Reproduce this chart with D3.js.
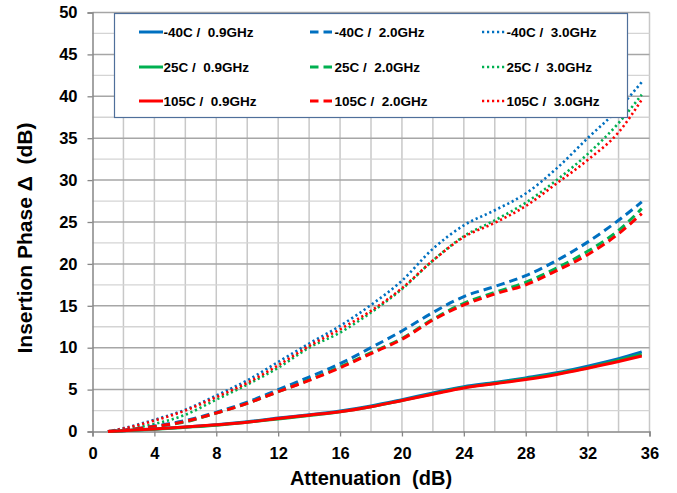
<!DOCTYPE html>
<html><head><meta charset="utf-8">
<script src="https://cdn.jsdelivr.net/npm/d3@7"></script>
<style>body{margin:0;background:#fff}svg{display:block;font-family:"Liberation Sans",Arial,sans-serif}</style>
</head><body><svg id="c" width="677" height="493"></svg>
<script>
const atten = [1,2,4,6,8,10,12,14,16,18,20,22,24,26,28,30,32,34,35.5];
const m40_09 = [0,0.1,0.3,0.55,0.8,1.15,1.6,2.0,2.45,3.05,3.8,4.6,5.35,5.85,6.4,7.0,7.8,8.7,9.5];
const p25_09 = [0,0.08,0.27,0.5,0.75,1.1,1.5,1.9,2.35,2.95,3.7,4.5,5.25,5.75,6.3,6.9,7.6,8.5,9.2];
const p105_09 = [0,0.1,0.3,0.55,0.8,1.1,1.55,1.95,2.35,2.95,3.7,4.45,5.2,5.7,6.2,6.8,7.55,8.35,9.0];
const m40_20 = [0,0.15,0.65,1.3,2.3,3.5,5.0,6.5,8.1,10.0,12.0,14.2,16.1,17.3,18.6,20.4,22.6,25.2,27.4];
const p25_20 = [0,0.12,0.55,1.15,2.2,3.35,4.75,6.15,7.7,9.4,11.1,13.4,15.3,16.6,17.8,19.5,21.5,24.0,26.6];
const p105_20 = [0,0.15,0.6,1.2,2.2,3.35,4.75,6.1,7.6,9.3,11.0,13.3,15.1,16.4,17.5,19.2,21.1,23.6,26.0];
const m40_30 = [0,0.4,1.4,2.6,4.3,6.1,8.3,10.5,12.6,15.1,18.0,21.8,24.6,26.4,28.4,31.4,35.0,38.5,41.7];
const p25_30 = [0,0.2,0.9,2.0,3.8,5.6,7.6,10.0,11.8,14.2,17.0,20.4,23.3,25.2,27.3,30.0,33.1,36.8,40.2];
const p105_30 = [0,0.35,1.3,2.5,4.1,5.8,7.9,10.2,12.2,14.4,17.1,20.4,23.2,24.9,26.9,29.6,32.4,35.7,39.6];
const xTicks = [0,4,8,12,16,20,24,28,32,36];
const yTicks = [0,5,10,15,20,25,30,35,40,45,50];
const temps = ["-40C", "25C", "105C"];
const freqs = ["0.9GHz", "2.0GHz", "3.0GHz"];

const colors = {"-40C":"#0070c0","25C":"#00b050","105C":"#ff0000"};
const dashes = {"0.9GHz":null,"2.0GHz":"8.5,5","3.0GHz":"2.2,2.8"};
const widths = {"0.9GHz":3,"2.0GHz":3,"3.0GHz":2.6};
const seriesVals = {
  "-40C|0.9GHz":m40_09,"25C|0.9GHz":p25_09,"105C|0.9GHz":p105_09,
  "-40C|2.0GHz":m40_20,"25C|2.0GHz":p25_20,"105C|2.0GHz":p105_20,
  "-40C|3.0GHz":m40_30,"25C|3.0GHz":p25_30,"105C|3.0GHz":p105_30
};

const svg = d3.select("#c");
const x = d3.scaleLinear().domain([0,36]).range([92.5,649.5]);
const y = d3.scaleLinear().domain([0,50]).range([431.5,12.5]);

// gridlines
const g = svg.append("g");
g.selectAll(".vg").data(d3.range(2,37,2)).join("line")
  .attr("x1",d=>x(d)).attr("x2",d=>x(d)).attr("y1",y(0)).attr("y2",y(50))
  .attr("stroke","#c8c8c8").attr("stroke-width",1.5);
g.selectAll(".hm").data(d3.range(2.5,50,5)).join("line")
  .attr("x1",x(0)).attr("x2",x(36)).attr("y1",d=>y(d)).attr("y2",d=>y(d))
  .attr("stroke","#d4d4d4").attr("stroke-width",1.3);
g.selectAll(".hM").data(d3.range(5,51,5)).join("line")
  .attr("x1",x(0)).attr("x2",x(36)).attr("y1",d=>y(d)).attr("y2",d=>y(d))
  .attr("stroke","#a6a6a6").attr("stroke-width",1.5);

// axes
const xa = svg.append("g").attr("transform",`translate(0,${y(0)})`)
  .call(d3.axisBottom(x).tickValues(xTicks).tickSize(5).tickPadding(8).tickFormat(d3.format("d")));
const ya = svg.append("g").attr("transform",`translate(${x(0)},0)`)
  .call(d3.axisLeft(y).tickValues(yTicks).tickSize(5).tickPadding(9).tickFormat(d3.format("d")));
[xa,ya].forEach(a=>{
  a.select(".domain").attr("stroke","#868686").attr("stroke-width",1.5);
  a.selectAll(".tick line").attr("stroke","#868686").attr("stroke-width",1.3);
  a.selectAll("text").attr("font-size",16.5).attr("font-weight","bold").attr("fill","#000")
    .attr("font-family","'Liberation Sans',Arial,sans-serif");
});
xa.selectAll("text").attr("dy","0.9em");
ya.selectAll("text").attr("dx","-1");

// lines
const line = d3.line().x((d,i)=>x(atten[i])).y(d=>y(d)).curve(d3.curveMonotoneX);
freqs.slice().reverse().forEach(f=>{
  temps.forEach(t=>{
    svg.append("path").datum(seriesVals[t+"|"+f]).attr("d",line)
      .attr("fill","none").attr("stroke",colors[t]).attr("stroke-width",widths[f])
      .attr("stroke-dasharray",dashes[f]);
  });
});

// legend
const lg = svg.append("g");
lg.append("rect").attr("x",114.5).attr("y",13.5).attr("width",513).attr("height",104)
  .attr("fill","#fff").attr("stroke","#4f6f9a").attr("stroke-width",1.2);
const colX = [139,310,482];
const rowY = [32,67,101];
freqs.forEach((f,ci)=>{
  temps.forEach((t,ri)=>{
    lg.append("line").attr("x1",colX[ci]).attr("x2",colX[ci]+24).attr("y1",rowY[ri]).attr("y2",rowY[ri])
      .attr("stroke",colors[t]).attr("stroke-width",widths[f]).attr("stroke-dasharray",dashes[f]);
    lg.append("text").attr("x",colX[ci]+24.5).attr("y",rowY[ri]).attr("dy","0.35em")
      .attr("font-size",13.5).attr("font-weight","bold")
      .style("white-space","pre")
      .text(t+" /  "+f);
  });
});

// titles
svg.append("text").attr("x",(x(0)+x(36))/2).attr("y",485).attr("text-anchor","middle")
  .attr("font-size",20).attr("font-weight","bold").style("white-space","pre").text("Attenuation  (dB)");
svg.append("text").attr("transform","translate(32,238) rotate(-90)").attr("text-anchor","middle")
  .attr("font-size",21).attr("font-weight","bold").style("white-space","pre").text("Insertion Phase Δ  (dB)");
</script></body></html>
